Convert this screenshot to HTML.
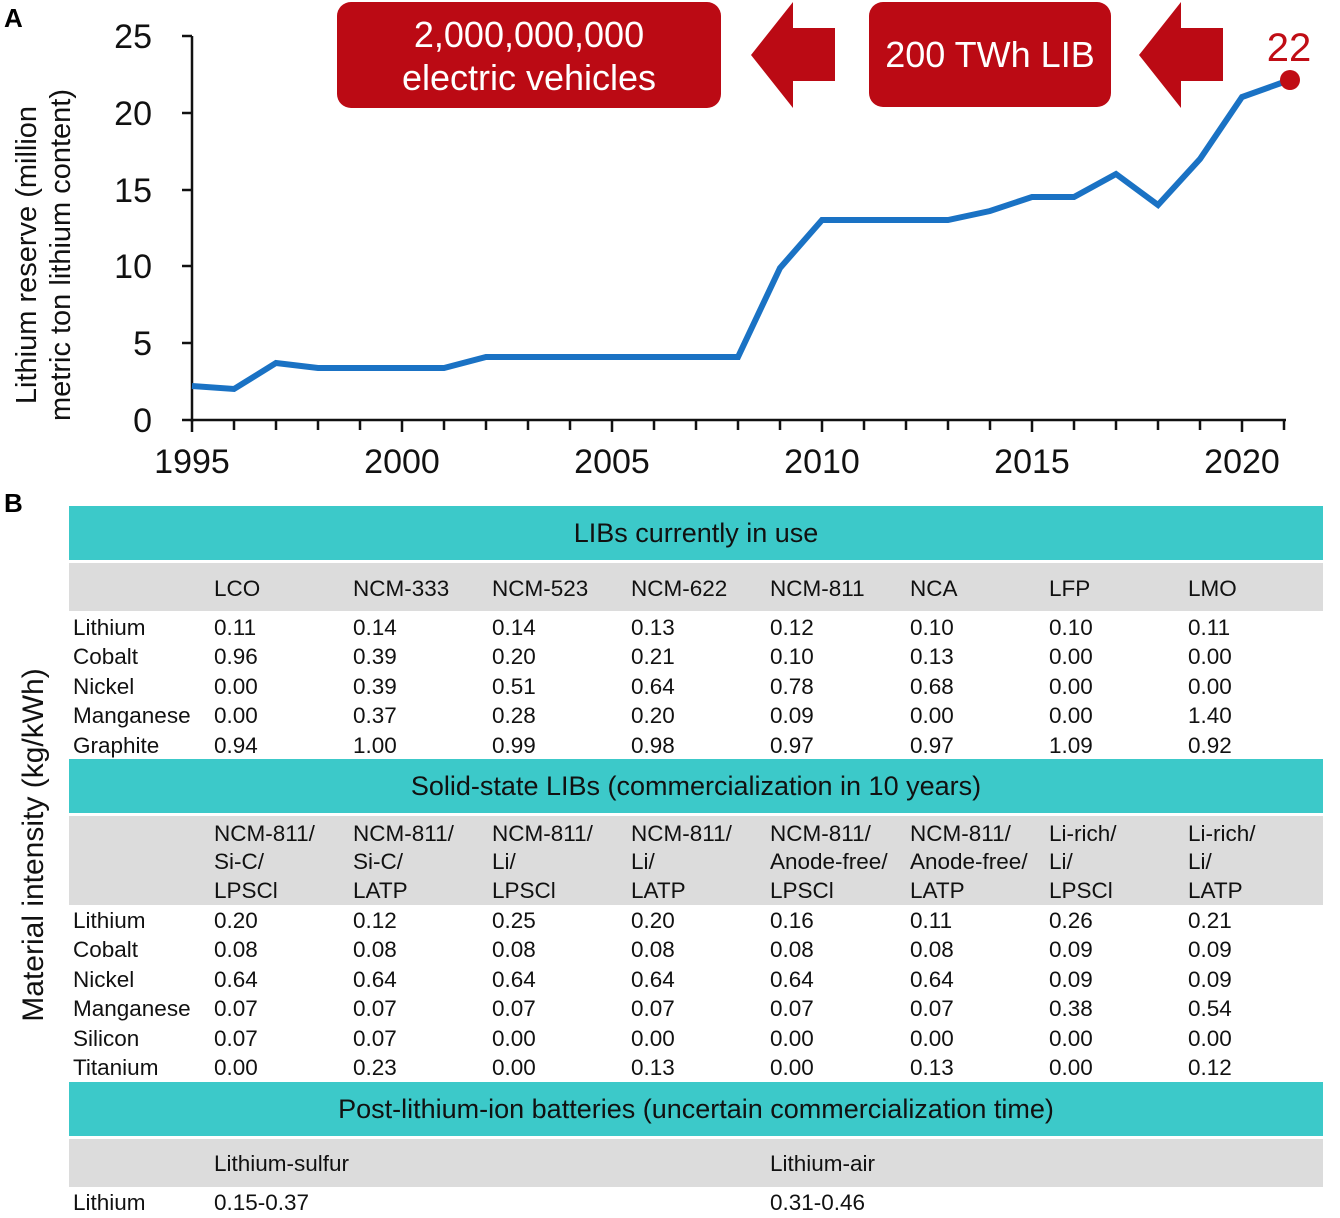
<!DOCTYPE html>
<html><head><meta charset="utf-8"><style>
html,body{margin:0;padding:0;background:#fff}
svg{display:block}
text{font-family:"Liberation Sans",Arial,sans-serif}
</style></head><body>
<svg width="1340" height="1218" viewBox="0 0 1340 1218" xmlns="http://www.w3.org/2000/svg">
<!-- Panel A -->
<text x="4" y="27" font-size="26" font-weight="bold">A</text>
<g stroke="#111" stroke-width="2.5" fill="none">
<line x1="192" y1="36" x2="192" y2="422"/>
<line x1="182" y1="420" x2="1286" y2="420"/>
<line x1="182" y1="36" x2="192" y2="36"/>
<line x1="182" y1="113" x2="192" y2="113"/>
<line x1="182" y1="190" x2="192" y2="190"/>
<line x1="182" y1="266" x2="192" y2="266"/>
<line x1="182" y1="343" x2="192" y2="343"/>
<path d="M192 420v12M234 420v10M276 420v10M318 420v10M360 420v10M402 420v12M444 420v10M486 420v10M528 420v10M570 420v10M612 420v12M654 420v10M696 420v10M738 420v10M780 420v10M822 420v12M864 420v10M906 420v10M948 420v10M990 420v10M1032 420v12M1074 420v10M1116 420v10M1158 420v10M1200 420v10M1242 420v12M1284 420v10"/>
</g>
<g font-size="34" fill="#111" text-anchor="end">
<text x="152" y="48">25</text><text x="152" y="125">20</text><text x="152" y="202">15</text>
<text x="152" y="278">10</text><text x="152" y="355">5</text><text x="152" y="432">0</text>
</g>
<g font-size="34" fill="#111" text-anchor="middle">
<text x="192" y="473">1995</text><text x="402" y="473">2000</text><text x="612" y="473">2005</text>
<text x="822" y="473">2010</text><text x="1032" y="473">2015</text><text x="1242" y="473">2020</text>
</g>
<g font-size="29" fill="#111" text-anchor="middle">
<text transform="translate(36,255) rotate(-90)">Lithium reserve (million</text>
<text transform="translate(70,255) rotate(-90)">metric ton lithium content)</text>
</g>
<polyline fill="none" stroke="#1a72c4" stroke-width="6" stroke-linejoin="miter"
points="192,386 234,389 276,363 318,368 360,368 402,368 444,368 486,357 528,357 570,357 612,357 654,357 696,357 738,357 780,268 822,220 864,220 906,220 948,220 990,211 1032,197 1074,197 1116,174 1158,205 1200,159 1242,97 1284,82"/>
<circle cx="1290" cy="80" r="10" fill="#c00d15"/>
<text x="1289" y="61" font-size="40" fill="#c00d15" text-anchor="middle">22</text>
<rect x="337" y="2" width="384" height="106" rx="14" fill="#bb0a14"/>
<text x="529" y="47" font-size="36" fill="#fff" text-anchor="middle">2,000,000,000</text>
<text x="529" y="90" font-size="36" fill="#fff" text-anchor="middle">electric vehicles</text>
<rect x="869" y="2" width="242" height="105" rx="14" fill="#bb0a14"/>
<text x="990" y="67" font-size="36" fill="#fff" text-anchor="middle">200 TWh LIB</text>
<polygon points="751,55 793,2 793,28 835,28 835,81 793,81 793,108" fill="#bb0a14"/>
<polygon points="1139,55 1181,2 1181,28 1223,28 1223,81 1181,81 1181,108" fill="#bb0a14"/>

<!-- Panel B -->
<text x="4" y="512" font-size="26" font-weight="bold">B</text>
<text transform="translate(43,845) rotate(-90)" font-size="30" fill="#111" text-anchor="middle">Material intensity (kg/kWh)</text>
<rect x="69" y="506" width="1254" height="54" fill="#3cc9c9"/>
<rect x="69" y="563" width="1254" height="48" fill="#dcdcdc"/>
<rect x="69" y="759" width="1254" height="54" fill="#3cc9c9"/>
<rect x="69" y="816" width="1254" height="89" fill="#dcdcdc"/>
<rect x="69" y="1082" width="1254" height="54" fill="#3cc9c9"/>
<rect x="69" y="1139" width="1254" height="48" fill="#dcdcdc"/>
<g font-size="27" fill="#111" text-anchor="middle">
<text x="696" y="542">LIBs currently in use</text>
<text x="696" y="795">Solid-state LIBs (commercialization in 10 years)</text>
<text x="696" y="1118">Post-lithium-ion batteries (uncertain commercialization time)</text>
</g>
<g font-size="22.5" fill="#111">
<text y="596"><tspan x="214">LCO</tspan><tspan x="353">NCM-333</tspan><tspan x="492">NCM-523</tspan><tspan x="631">NCM-622</tspan><tspan x="770">NCM-811</tspan><tspan x="910">NCA</tspan><tspan x="1049">LFP</tspan><tspan x="1188">LMO</tspan></text>
<text y="635"><tspan x="73">Lithium</tspan><tspan x="214">0.11</tspan><tspan x="353">0.14</tspan><tspan x="492">0.14</tspan><tspan x="631">0.13</tspan><tspan x="770">0.12</tspan><tspan x="910">0.10</tspan><tspan x="1049">0.10</tspan><tspan x="1188">0.11</tspan></text>
<text y="664"><tspan x="73">Cobalt</tspan><tspan x="214">0.96</tspan><tspan x="353">0.39</tspan><tspan x="492">0.20</tspan><tspan x="631">0.21</tspan><tspan x="770">0.10</tspan><tspan x="910">0.13</tspan><tspan x="1049">0.00</tspan><tspan x="1188">0.00</tspan></text>
<text y="694"><tspan x="73">Nickel</tspan><tspan x="214">0.00</tspan><tspan x="353">0.39</tspan><tspan x="492">0.51</tspan><tspan x="631">0.64</tspan><tspan x="770">0.78</tspan><tspan x="910">0.68</tspan><tspan x="1049">0.00</tspan><tspan x="1188">0.00</tspan></text>
<text y="723"><tspan x="73">Manganese</tspan><tspan x="214">0.00</tspan><tspan x="353">0.37</tspan><tspan x="492">0.28</tspan><tspan x="631">0.20</tspan><tspan x="770">0.09</tspan><tspan x="910">0.00</tspan><tspan x="1049">0.00</tspan><tspan x="1188">1.40</tspan></text>
<text y="753"><tspan x="73">Graphite</tspan><tspan x="214">0.94</tspan><tspan x="353">1.00</tspan><tspan x="492">0.99</tspan><tspan x="631">0.98</tspan><tspan x="770">0.97</tspan><tspan x="910">0.97</tspan><tspan x="1049">1.09</tspan><tspan x="1188">0.92</tspan></text>

<text y="841"><tspan x="214">NCM-811/</tspan><tspan x="353">NCM-811/</tspan><tspan x="492">NCM-811/</tspan><tspan x="631">NCM-811/</tspan><tspan x="770">NCM-811/</tspan><tspan x="910">NCM-811/</tspan><tspan x="1049">Li-rich/</tspan><tspan x="1188">Li-rich/</tspan></text>
<text y="869"><tspan x="214">Si-C/</tspan><tspan x="353">Si-C/</tspan><tspan x="492">Li/</tspan><tspan x="631">Li/</tspan><tspan x="770">Anode-free/</tspan><tspan x="910">Anode-free/</tspan><tspan x="1049">Li/</tspan><tspan x="1188">Li/</tspan></text>
<text y="898"><tspan x="214">LPSCl</tspan><tspan x="353">LATP</tspan><tspan x="492">LPSCl</tspan><tspan x="631">LATP</tspan><tspan x="770">LPSCl</tspan><tspan x="910">LATP</tspan><tspan x="1049">LPSCl</tspan><tspan x="1188">LATP</tspan></text>
<text y="928"><tspan x="73">Lithium</tspan><tspan x="214">0.20</tspan><tspan x="353">0.12</tspan><tspan x="492">0.25</tspan><tspan x="631">0.20</tspan><tspan x="770">0.16</tspan><tspan x="910">0.11</tspan><tspan x="1049">0.26</tspan><tspan x="1188">0.21</tspan></text>
<text y="957"><tspan x="73">Cobalt</tspan><tspan x="214">0.08</tspan><tspan x="353">0.08</tspan><tspan x="492">0.08</tspan><tspan x="631">0.08</tspan><tspan x="770">0.08</tspan><tspan x="910">0.08</tspan><tspan x="1049">0.09</tspan><tspan x="1188">0.09</tspan></text>
<text y="987"><tspan x="73">Nickel</tspan><tspan x="214">0.64</tspan><tspan x="353">0.64</tspan><tspan x="492">0.64</tspan><tspan x="631">0.64</tspan><tspan x="770">0.64</tspan><tspan x="910">0.64</tspan><tspan x="1049">0.09</tspan><tspan x="1188">0.09</tspan></text>
<text y="1016"><tspan x="73">Manganese</tspan><tspan x="214">0.07</tspan><tspan x="353">0.07</tspan><tspan x="492">0.07</tspan><tspan x="631">0.07</tspan><tspan x="770">0.07</tspan><tspan x="910">0.07</tspan><tspan x="1049">0.38</tspan><tspan x="1188">0.54</tspan></text>
<text y="1046"><tspan x="73">Silicon</tspan><tspan x="214">0.07</tspan><tspan x="353">0.07</tspan><tspan x="492">0.00</tspan><tspan x="631">0.00</tspan><tspan x="770">0.00</tspan><tspan x="910">0.00</tspan><tspan x="1049">0.00</tspan><tspan x="1188">0.00</tspan></text>
<text y="1075"><tspan x="73">Titanium</tspan><tspan x="214">0.00</tspan><tspan x="353">0.23</tspan><tspan x="492">0.00</tspan><tspan x="631">0.13</tspan><tspan x="770">0.00</tspan><tspan x="910">0.13</tspan><tspan x="1049">0.00</tspan><tspan x="1188">0.12</tspan></text>

<text y="1171"><tspan x="214">Lithium-sulfur</tspan><tspan x="770">Lithium-air</tspan></text>
<text y="1210"><tspan x="73">Lithium</tspan><tspan x="214">0.15-0.37</tspan><tspan x="770">0.31-0.46</tspan></text>
</g>
</svg>
</body></html>
